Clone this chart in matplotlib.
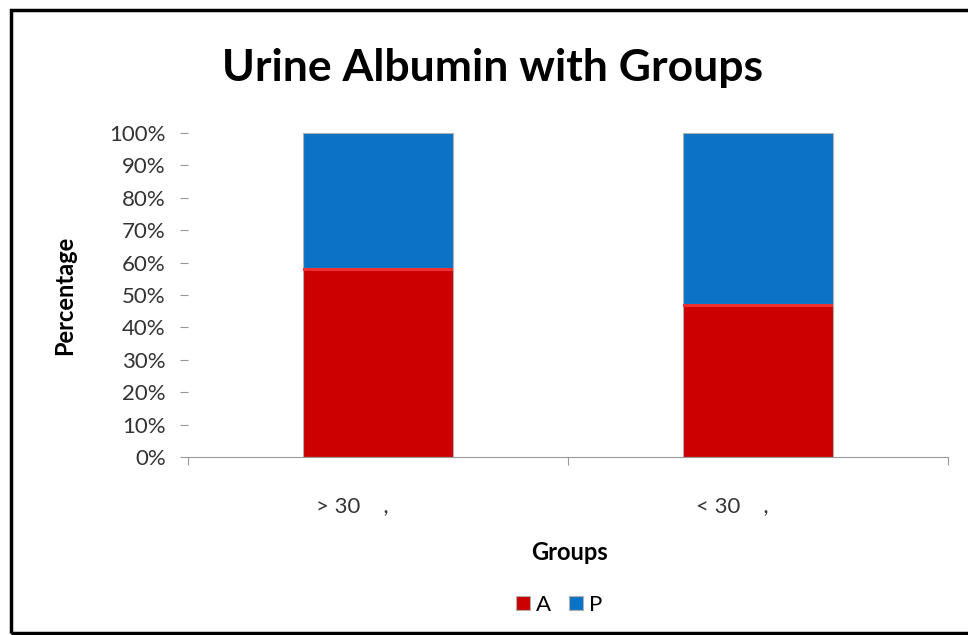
import matplotlib.pyplot as plt
from matplotlib.patches import Rectangle

groups = ["> 30    ,         ", "< 30    ,         "]
a_vals = [58.3, 47.2]
p_vals = [41.7, 52.8]
yticks = [0, 10, 20, 30, 40, 50, 60, 70, 80, 90, 100]

red = "#CC0000"
blue = "#0A73C6"
plt.rcParams['font.family'] = ['Lato', 'DejaVu Sans']

fig = plt.figure(figsize=(9.68, 6.35), dpi=100)
ax = fig.add_axes([0.1942, 0.2803, 0.785, 0.5102])

x = [0, 1]
w = 0.395
ax.bar(x, a_vals, width=w, color=red, edgecolor="#b0b0b0", linewidth=0.8, label="A")
ax.bar(x, p_vals, width=w, bottom=a_vals, color=blue, edgecolor="#b0b0b0", linewidth=0.8, label="P")
# light highlight at top of each red segment
for xi, a in zip(x, a_vals):
    ax.add_patch(Rectangle((xi - w / 2, a - 1.0), w, 1.0, color="#ee3030", lw=0))

ax.set_xlim(-0.5, 1.5)
ax.set_ylim(0, 100)
ax.set_yticks(yticks)
ax.set_yticklabels([f"{t}%" for t in yticks], fontsize=16, color="#333333")
ax.set_xticks([-0.5, 0.5, 1.5])
ax.set_xticklabels([])
ax.set_xticks(x, minor=True)
ax.set_xticklabels(groups, minor=True, fontsize=16, color="#333333")
ax.tick_params(axis="x", which="minor", length=0, pad=28)
ax.tick_params(axis="x", which="major", length=6, color="#999999")
ax.tick_params(axis="y", length=6, color="#999999", pad=10)
for s in ["top", "right", "left"]:
    ax.spines[s].set_visible(False)
ax.spines["bottom"].set_color("#999999")

ax.set_ylabel("Percentage", fontsize=17, fontweight="bold", labelpad=24)
fig.text(0.588, 0.130, "Groups", ha="center", va="center", fontsize=17, fontweight="bold")
fig.text(0.509, 0.893, "Urine Albumin with Groups", ha="center", va="center",
         fontsize=32, fontweight="bold")

ax.legend(loc="center", bbox_to_anchor=(0.578, 0.047), bbox_transform=fig.transFigure,
          ncol=2, frameon=False, fontsize=16, handlelength=0.6, handleheight=0.6,
          handletextpad=0.3, columnspacing=0.8)

fig.add_artist(Rectangle((0.011, 0.003), 1.0, 0.982, transform=fig.transFigure,
                         fill=False, edgecolor="black", linewidth=2.5))

fig.savefig("out.png", dpi=100)
